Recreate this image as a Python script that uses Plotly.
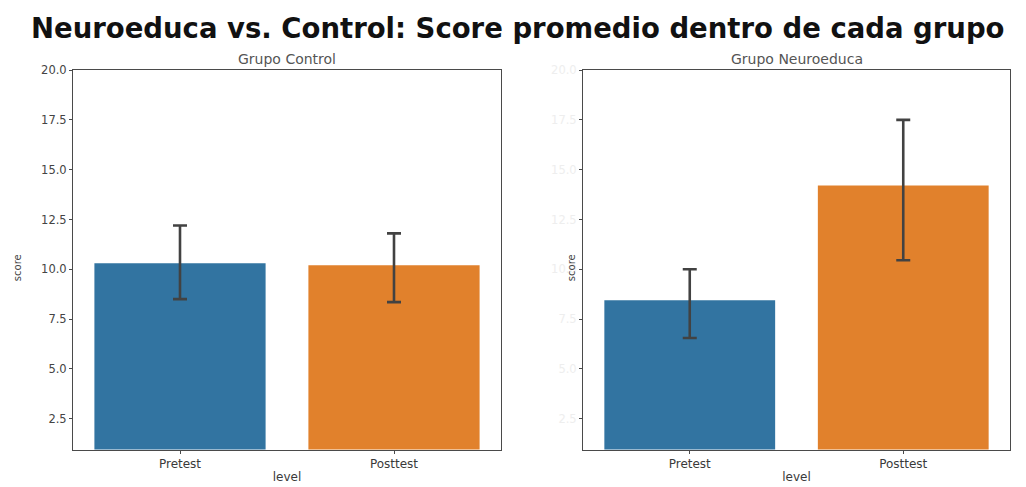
import plotly.graph_objects as go

# Mean score per level and group, with 95% CI bounds
levels = ["Pretest", "Posttest"]
control_mean = [10.3, 10.2]
control_low = [8.5, 8.35]
control_high = [12.2, 11.8]
neuro_mean = [8.45, 14.2]
neuro_low = [6.55, 10.45]
neuro_high = [10.0, 17.5]
bar_colors = ["#3274a1", "#e1812c"]
y_ticks = [2.5, 5.0, 7.5, 10.0, 12.5, 15.0, 17.5, 20.0]

W, H = 1026, 487
fig = go.Figure()


def add_group(means, lows, highs, xa, ya):
    fig.add_trace(go.Bar(
        x=levels, y=means, marker=dict(color=bar_colors, line=dict(width=0)),
        width=0.8, xaxis=xa, yaxis=ya, showlegend=False,
        error_y=dict(type="data", symmetric=False,
                     array=[h - m for h, m in zip(highs, means)],
                     arrayminus=[m - l for m, l in zip(means, lows)],
                     color="#424242", thickness=2.6, width=7),
    ))


add_group(control_mean, control_low, control_high, "x", "y")
add_group(neuro_mean, neuro_low, neuro_high, "x2", "y2")

y0, y1 = 1 - 449 / H, 1 - 64 / H
axis_common = dict(showline=True, linecolor="#4a4a4a", linewidth=1, mirror=True,
                   showgrid=False, zeroline=False, ticks="outside", ticklen=3,
                   tickcolor="#4a4a4a")
yrange = [0.95, 20.0]
tick_font = dict(size=12, color="#3a3a3a")
label_font = dict(size=12, color="#3a3a3a")

fig.update_layout(
    width=W, height=H, margin=dict(l=0, r=0, t=0, b=0),
    paper_bgcolor="white", plot_bgcolor="white",
    font=dict(family="DejaVu Sans", color="#3a3a3a", size=12),
    bargap=0.2,
    xaxis=dict(domain=[73 / W, 501 / W], range=[-0.5, 1.5], anchor="y",
               tickfont=tick_font,
               title=dict(text="level", font=label_font, standoff=2),
               **axis_common),
    yaxis=dict(domain=[y0, y1], range=yrange, anchor="x",
               tickvals=y_ticks, ticktext=[f"{v:.1f}" for v in y_ticks],
               tickfont=dict(size=11.5, color="#444444"),
               **axis_common),
    xaxis2=dict(domain=[583 / W, 1010 / W], range=[-0.5, 1.5], anchor="y2",
                tickfont=tick_font,
                title=dict(text="level", font=label_font, standoff=2),
                **axis_common),
    yaxis2=dict(domain=[y0, y1], range=yrange, anchor="x2",
                tickvals=y_ticks, ticktext=[f"{v:.1f}" for v in y_ticks],
                tickfont=dict(size=11.5, color="#eeeeee"),
                **axis_common),
    annotations=[
        dict(text="<b>Neuroeduca vs. Control: Score promedio dentro de cada grupo</b>",
             x=518 / W, y=1 - 21 / H, xref="paper", yref="paper", showarrow=False,
             xanchor="center", yanchor="middle",
             font=dict(size=27.5, color="#111111", family="DejaVu Sans")),
        dict(text="Grupo Control", x=(73 + 501) / 2 / W, y=1 - 53 / H,
             xref="paper", yref="paper", showarrow=False, xanchor="center",
             yanchor="middle", font=dict(size=14, color="#555555")),
        dict(text="Grupo Neuroeduca", x=(583 + 1010) / 2 / W, y=1 - 53 / H,
             xref="paper", yref="paper", showarrow=False, xanchor="center",
             yanchor="middle", font=dict(size=14, color="#555555")),
        dict(text="score", x=17 / W, y=1 - 265 / H, xref="paper", yref="paper",
             showarrow=False, textangle=-90, xanchor="center", yanchor="middle",
             font=dict(size=10, color="#444444")),
        dict(text="score", x=571 / W, y=1 - 265 / H, xref="paper", yref="paper",
             showarrow=False, textangle=-90, xanchor="center", yanchor="middle",
             font=dict(size=10, color="#444444")),
    ],
)

fig.write_html("out.html")
